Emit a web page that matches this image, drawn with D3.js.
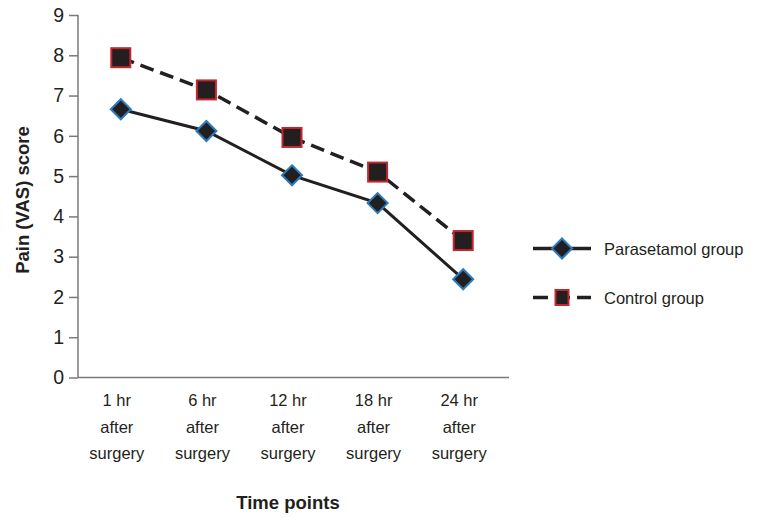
<!DOCTYPE html>
<html><head><meta charset="utf-8">
<script src="https://cdn.jsdelivr.net/npm/d3@7"></script>
<style>body{margin:0;background:#fff}svg{display:block;font-family:"Liberation Sans",Arial,sans-serif}</style>
</head><body>
<svg id="c" width="759" height="521"></svg>
<script>
const categories = [["1 hr","after","surgery"],["6 hr","after","surgery"],["12 hr","after","surgery"],["18 hr","after","surgery"],["24 hr","after","surgery"]];
const catKeys = ["1 hr","6 hr","12 hr","18 hr","24 hr"];
const parasetamol = [6.66, 6.12, 5.02, 4.33, 2.44];
const control = [7.94, 7.14, 5.96, 5.10, 3.40];
const yTicks = [0,1,2,3,4,5,6,7,8,9];
const seriesNames = ["Parasetamol group","Control group"];

const svg = d3.select("#c");
const dark = "#231f20", axisCol = "#7a7a7a", blue = "#2b7bbd", red = "#c1272d";
const x = d3.scaleBand().domain(catKeys).range([78, 506]).padding(0);
const cx = k => x(k) + x.bandwidth()/2;
const y = d3.scaleLinear().domain([0, 9]).range([377.5, 15]);

// axes
const ya = svg.append("g").attr("transform","translate(78,0)")
  .call(d3.axisLeft(y).tickValues(yTicks).tickSize(9).tickPadding(5).tickFormat(d3.format("d")));
ya.select(".domain").remove();
ya.selectAll("line").attr("stroke", axisCol).attr("stroke-width",1.5);
ya.selectAll("text").attr("font-size",19.5).attr("fill",dark).attr("font-family","Liberation Sans, Arial, sans-serif");
svg.append("line").attr("x1",78).attr("x2",78).attr("y1",y(9)).attr("y2",y(0)).attr("stroke",axisCol).attr("stroke-width",1.5);
svg.append("line").attr("x1",78).attr("x2",509).attr("y1",y(0)).attr("y2",y(0)).attr("stroke",axisCol).attr("stroke-width",1.5);

// x labels
catKeys.forEach((k,i)=>{
  const t = svg.append("text").attr("x", cx(k)-4).attr("y", 406).attr("text-anchor","middle")
    .attr("font-size",16.5).attr("fill",dark);
  categories[i].forEach((ln,j)=>{
    t.append("tspan").attr("x", cx(k)-4).attr("y", 406 + j*26.5).text(ln);
  });
});

// titles
svg.append("text").attr("transform","translate(29,200) rotate(-90)").attr("text-anchor","middle")
  .attr("font-size",18.5).attr("font-weight","bold").attr("fill",dark).text("Pain (VAS) score");
svg.append("text").attr("x",288).attr("y",509).attr("text-anchor","middle")
  .attr("font-size",18.5).attr("font-weight","bold").attr("fill",dark).text("Time points");

const line = d3.line().x((d,i)=>cx(catKeys[i])).y(d=>y(d));
svg.append("path").datum(control).attr("d",line).attr("fill","none").attr("stroke",dark)
  .attr("stroke-width",3.5).attr("stroke-dasharray","14,7");
svg.append("path").datum(parasetamol).attr("d",line).attr("fill","none").attr("stroke",dark)
  .attr("stroke-width",3);

function diamond(g, px, py){
  g.append("path").attr("d", `M${px},${py-10}L${px+10},${py}L${px},${py+10}L${px-10},${py}Z`)
   .attr("fill",dark).attr("stroke",blue).attr("stroke-width",2);
}
function square(g, px, py){
  g.append("rect").attr("x",px-9.5).attr("y",py-9.5).attr("width",19).attr("height",19)
   .attr("fill",dark).attr("stroke",red).attr("stroke-width",2);
}
const mk = svg.append("g");
parasetamol.forEach((v,i)=>diamond(mk, cx(catKeys[i]), y(v)));
control.forEach((v,i)=>square(mk, cx(catKeys[i]), y(v)));

// legend
const lg = svg.append("g");
const legY = [248.5, 297.5];
lg.append("line").attr("x1",533).attr("x2",591).attr("y1",legY[0]).attr("y2",legY[0]).attr("stroke",dark).attr("stroke-width",3.5);
diamond(lg, 562, legY[0]);
lg.append("line").attr("x1",533).attr("x2",591).attr("y1",legY[1]).attr("y2",legY[1]).attr("stroke",dark).attr("stroke-width",3.5).attr("stroke-dasharray","15,7");
lg.append("rect").attr("x",555.5).attr("y",legY[1]-7.5).attr("width",13).attr("height",15).attr("fill",dark).attr("stroke",red).attr("stroke-width",2);
seriesNames.forEach((n,i)=>{
  lg.append("text").attr("x",604).attr("y",legY[i]+6).attr("font-size",16.5).attr("fill",dark).text(n);
});
</script>
</body></html>
